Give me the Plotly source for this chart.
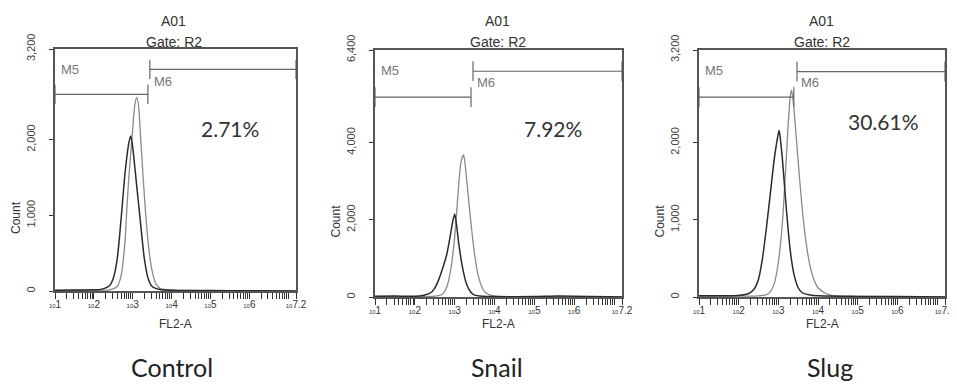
import numpy as np
import plotly.graph_objects as go

# The page body has an 8px margin, so the figure is drawn 8px in from the window corner.
OFF = 8
W, H = 957 - OFF, 386 - OFF

# ---------------- data ----------------
panel_names = ["Control", "Snail", "Slug"]
percent_labels = ["2.71%", "7.92%", "30.61%"]
y_max = [3200, 6400, 3200]
y_tick_vals = [[0, 1000, 2000, 3200], [0, 2000, 4000, 6400], [0, 1000, 2000, 3200]]
y_tick_text = [["0", "1,000", "2,000", "3,200"], ["0", "2,000", "4,000", "6,400"], ["0", "1,000", "2,000", "3,200"]]
x_label_exponents = ["1", "2", "3", "4", "5", "6", "7.2"]

# histogram curves, x given as log10(FL2-A)
ctrl_dark_logx = [1.0, 1.5, 2.0, 2.2, 2.4, 2.5, 2.6, 2.7, 2.8, 2.9, 2.95, 3.0, 3.1, 3.2, 3.3, 3.4, 3.5, 3.7, 4.0, 5.0, 6.0, 7.2]
ctrl_dark_cnt = [10, 12, 15, 25, 70, 170, 420, 950, 1550, 1960, 2050, 1900, 1400, 900, 420, 160, 60, 20, 10, 5, 3, 0]
ctrl_gray_logx = [1.0, 2.0, 2.4, 2.6, 2.7, 2.8, 2.85, 2.9, 3.0, 3.05, 3.1, 3.15, 3.2, 3.3, 3.4, 3.5, 3.6, 3.7, 4.0, 5.0, 7.2]
ctrl_gray_cnt = [5, 8, 15, 60, 200, 650, 1100, 1500, 2150, 2450, 2560, 2450, 2050, 1250, 620, 260, 90, 35, 10, 5, 0]

snail_dark_logx = [1.0, 1.5, 2.0, 2.2, 2.4, 2.5, 2.6, 2.7, 2.8, 2.9, 2.95, 3.0, 3.05, 3.1, 3.2, 3.3, 3.4, 3.5, 3.7, 4.0, 5.0, 5.6, 7.2]
snail_dark_cnt = [20, 25, 20, 40, 110, 230, 450, 750, 1100, 1650, 1950, 2150, 1850, 1400, 750, 330, 130, 50, 20, 10, 10, 25, 0]
snail_gray_logx = [1.0, 2.0, 2.5, 2.7, 2.8, 2.9, 3.0, 3.05, 3.1, 3.15, 3.2, 3.22, 3.25, 3.3, 3.4, 3.5, 3.6, 3.7, 3.8, 4.0, 5.0, 7.2]
snail_gray_cnt = [10, 10, 20, 80, 250, 700, 1550, 2200, 2900, 3450, 3650, 3680, 3550, 3050, 2000, 1100, 520, 220, 90, 25, 10, 0]

slug_dark_logx = [1.0, 1.5, 2.0, 2.2, 2.3, 2.4, 2.5, 2.6, 2.7, 2.8, 2.9, 3.0, 3.02, 3.05, 3.1, 3.2, 3.3, 3.4, 3.5, 3.6, 3.8, 4.0, 5.0, 6.0, 7.2]
slug_dark_cnt = [15, 15, 20, 35, 60, 110, 230, 500, 900, 1350, 1800, 2120, 2160, 2050, 1800, 1150, 600, 280, 120, 55, 25, 15, 8, 5, 0]
slug_gray_logx = [1.0, 2.0, 2.5, 2.7, 2.8, 2.9, 3.0, 3.1, 3.15, 3.2, 3.25, 3.3, 3.33, 3.36, 3.4, 3.5, 3.6, 3.7, 3.8, 3.9, 4.0, 4.2, 4.4, 5.0, 7.2]
slug_gray_cnt = [10, 12, 15, 30, 70, 180, 450, 950, 1350, 1800, 2250, 2600, 2680, 2600, 2400, 1750, 1150, 700, 400, 220, 120, 45, 15, 8, 0]

dark_logx = [ctrl_dark_logx, snail_dark_logx, slug_dark_logx]
dark_cnt = [ctrl_dark_cnt, snail_dark_cnt, slug_dark_cnt]
gray_logx = [ctrl_gray_logx, snail_gray_logx, slug_gray_logx]
gray_cnt = [ctrl_gray_cnt, snail_gray_cnt, slug_gray_cnt]

# gate markers (log10 range, bar height in counts)
m5_range = [[1.0, 3.39], [1.0, 3.41], [1.0, 3.39]]
m5_level = [2600, 5180, 2590]
m6_range = [[3.44, 7.2], [3.46, 7.2], [3.47, 7.2]]
m6_level = [2930, 5850, 2920]

# ---------------- layout geometry (window pixels) ----------------
px_x = [(55, 296), (375, 622), (699, 945)]
px_y = [(49, 291), (50, 297), (50, 297)]
title_cx = [173, 497, 821]
caption_cx = [172, 497, 830]
pct_pos = [(230, 128), (553, 128), (883, 121)]


def fx(px):
    return (px - OFF) / W


def fy(py):
    return 1 - (py - OFF) / H


fig = go.Figure()
dark_col = "#2b2b2b"
gray_col = "#8a8a8a"
axis_col = "#555555"


def xlab(e):
    return "<span style='font-size:6px'>10</span>%s" % e


tick_vals = []
tick_txt = []
for d in range(1, 8):
    tick_vals.append(10 ** d)
    lab = str(d)
    tick_txt.append(xlab(lab) if lab in x_label_exponents else "")
    if d < 7:
        for m in range(2, 10):
            tick_vals.append(m * 10 ** d)
            tick_txt.append("")
tick_vals.append(10 ** 7.2)
tick_txt.append(xlab(x_label_exponents[-1]))

FONT = "Liberation Sans, Arial"
CAL = "Lato, Open Sans, sans-serif"

for i in range(3):
    xa = "x" if i == 0 else "x%d" % (i + 1)
    ya = "y" if i == 0 else "y%d" % (i + 1)
    fig.add_trace(go.Scatter(x=[10 ** v for v in gray_logx[i]], y=gray_cnt[i], mode="lines",
                             line=dict(color=gray_col, width=1.3, shape="spline", smoothing=0.6),
                             xaxis=xa, yaxis=ya, showlegend=False))
    fig.add_trace(go.Scatter(x=[10 ** v for v in dark_logx[i]], y=dark_cnt[i], mode="lines",
                             line=dict(color=dark_col, width=1.5, shape="spline", smoothing=0.6),
                             xaxis=xa, yaxis=ya, showlegend=False))
    ym = y_max[i]
    tick_h = ym * 0.04
    for rng, lvl in ((m5_range[i], m5_level[i]), (m6_range[i], m6_level[i])):
        a, b = 10 ** rng[0], 10 ** rng[1]
        fig.add_trace(go.Scatter(
            x=[a, b, None, a, a, None, b, b],
            y=[lvl, lvl, None, lvl - tick_h, lvl + tick_h, None, lvl - tick_h, lvl + tick_h],
            mode="lines", line=dict(color="#666666", width=1.2),
            xaxis=xa, yaxis=ya, showlegend=False, hoverinfo="skip"))

    x0, x1 = px_x[i]
    y0, y1 = px_y[i]
    xkey = "xaxis" if i == 0 else "xaxis%d" % (i + 1)
    ykey = "yaxis" if i == 0 else "yaxis%d" % (i + 1)
    fig.layout[xkey] = dict(
        domain=[fx(x0), fx(x1)], type="log", range=[1, 7.2], anchor=ya, automargin=False,
        tickmode="array", tickvals=tick_vals, ticktext=tick_txt,
        ticks="outside", ticklen=6, tickwidth=1, tickcolor="#333",
        showline=True, linecolor=axis_col, linewidth=1.5, mirror=True,
        showgrid=False, zeroline=False,
        tickfont=dict(family=FONT, size=10, color="#333"),
        tickangle=0, ticklabelstandoff=-3,
    )
    fig.layout[ykey] = dict(
        domain=[fy(y1), fy(y0)], range=[0, ym], anchor=xa, automargin=False,
        tickmode="array", tickvals=y_tick_vals[i], ticktext=y_tick_text[i],
        ticks="outside", ticklen=4, tickwidth=1, tickcolor="#333",
        showline=True, linecolor=axis_col, linewidth=1.5, mirror=True,
        showgrid=False, zeroline=False, tickangle=-90,
        tickfont=dict(family=FONT, size=11, color="#444"),
        ticklabelstandoff=10,
    )
    ann = [
        dict(text="A01", x=title_cx[i], y=21, size=14, col="#333", fam=FONT),
        dict(text="Gate: R2", x=title_cx[i] + 1, y=42, size=14, col="#333", fam=FONT),
        dict(text="FL2-A", x=(x0 + x1) / 2, y=324, size=12, col="#333", fam=FONT),
        dict(text=percent_labels[i], x=pct_pos[i][0], y=pct_pos[i][1], size=21, col="#333", fam=CAL),
        dict(text=panel_names[i], x=caption_cx[i], y=367, size=25, col="#222", fam=CAL),
        dict(text="M5", x=x0 + 15, y=y0 + 21, size=13, col="#777", fam=FONT),
    ]
    for a in ann:
        fig.add_annotation(text=a["text"], x=fx(a["x"]), y=fy(a["y"]), xref="paper", yref="paper",
                           showarrow=False, xanchor="center", yanchor="middle",
                           font=dict(family=a["fam"], size=a["size"], color=a["col"]))
    m6x = x0 + (m6_range[i][0] - 1) / 6.2 * (x1 - x0)
    fig.add_annotation(text="M6", x=fx(m6x + 2), y=fy(y0 + 32), xref="paper", yref="paper",
                       showarrow=False, xanchor="left", yanchor="middle",
                       font=dict(family=FONT, size=13, color="#777"))
    fig.add_annotation(text="Count", x=fx(x0 - 39), y=fy((y0 + y1) / 2 + 48), xref="paper", yref="paper",
                       showarrow=False, textangle=-90, xanchor="center", yanchor="middle",
                       font=dict(family=FONT, size=12, color="#333"))

fig.update_layout(width=W, height=H, margin=dict(l=0, r=0, t=0, b=0, autoexpand=False),
                  paper_bgcolor="white", plot_bgcolor="white")
fig.write_html("out.html")
